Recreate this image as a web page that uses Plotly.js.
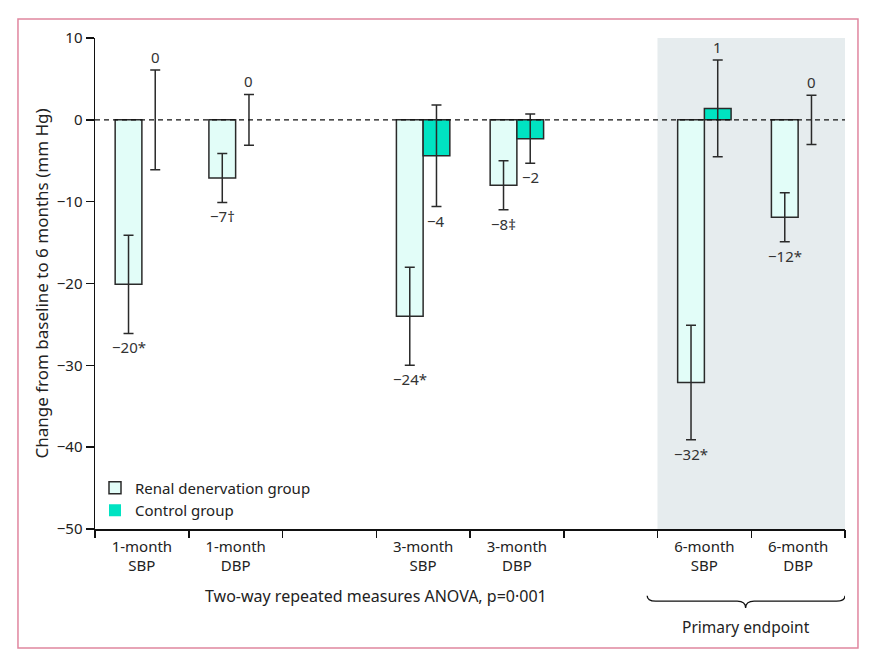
<!DOCTYPE html>
<html>
<head>
<meta charset="utf-8">
<script src="https://cdn.plot.ly/plotly-3.0.1.min.js"></script>
<style>html,body{margin:0;padding:0;background:#fff;}#chart{width:876px;height:662px;}</style>
</head>
<body>
<div id="chart"></div>
<script>
// ---- data ----
var categories = ["1-month<br>SBP", "1-month<br>DBP", "", "3-month<br>SBP", "3-month<br>DBP", "", "6-month<br>SBP", "6-month<br>DBP"];
var barPositions = [0, 1, 3, 4, 6, 7];
var renalValues = [-20.1, -7.1, -24.0, -8.0, -32.1, -11.9];
var renalErrors = [6.0, 3.0, 6.0, 3.0, 7.0, 3.0];
var renalLabels = ["\u221220*", "\u22127\u2020", "\u221224*", "\u22128\u2021", "\u221232*", "\u221212*"];
var controlValues = [0, 0, -4.4, -2.3, 1.4, 0];
var controlErrors = [6.1, 3.1, 6.2, 3.0, 5.9, 3.0];
var controlLabels = ["0", "0", "\u22124", "\u22122", "1", "0"];
var yTicks = [10, 0, -10, -20, -30, -40, -50];

var FONT = "Noto Sans, Open Sans, sans-serif";
var bargap = 0.43;
var half = (1 - bargap) / 4;

var renalTrace = {
  type: "bar", name: "Renal denervation group",
  x: barPositions, y: renalValues,
  marker: {color: "#e2fdf8", line: {color: "#2a2a2a", width: 1.5}},
  error_y: {type: "data", array: renalErrors, visible: true, color: "#2a2a2a", thickness: 1.5, width: 5},
  hoverinfo: "y"
};
var controlTrace = {
  type: "bar", name: "Control group",
  x: barPositions, y: controlValues,
  marker: {color: "#00e3c2", line: {color: "#2a2a2a", width: controlValues.map(function (v) { return v === 0 ? 0 : 1.5; })}},
  error_y: {type: "data", array: controlErrors, visible: true, color: "#2a2a2a", thickness: 1.5, width: 5},
  hoverinfo: "y"
};

var annotations = [];
for (var i = 0; i < barPositions.length; i++) {
  annotations.push({
    x: barPositions[i] - half, y: renalValues[i] - renalErrors[i], xref: "x", yref: "y",
    text: renalLabels[i], showarrow: false, yanchor: "middle", yshift: -14,
    font: {family: FONT, size: 15, color: "#333"}
  });
  var cv = controlValues[i];
  var above = cv >= 0;
  annotations.push({
    x: barPositions[i] + half, y: above ? cv + controlErrors[i] : cv - controlErrors[i], xref: "x", yref: "y",
    text: controlLabels[i], showarrow: false, yanchor: "middle", yshift: above ? 13 : -14,
    font: {family: FONT, size: 15, color: "#333"}
  });
}
annotations.push({
  x: 2.5, y: -0.137, xref: "x", yref: "paper", text: "Two-way repeated measures ANOVA, p=0\u00b7001",
  showarrow: false, yanchor: "middle", font: {family: FONT, size: 16, color: "#222"}
});
annotations.push({
  x: 6.44, y: -0.199, xref: "x", yref: "paper", text: "Primary endpoint",
  showarrow: false, yanchor: "middle", font: {family: FONT, size: 15.5, color: "#222"}
});

// brace under the primary endpoint
var L = 5.39, R = 7.5, C = 6.44, d = 0.09;
var yt = -0.136, ym = -0.147, yb = -0.161;
var brace = "M" + L + "," + yt + " Q" + L + "," + ym + " " + (L + d) + "," + ym +
  " L" + (C - d) + "," + ym + " Q" + C + "," + ym + " " + C + "," + yb +
  " Q" + C + "," + ym + " " + (C + d) + "," + ym +
  " L" + (R - d) + "," + ym + " Q" + R + "," + ym + " " + R + "," + yt;

var boundaries = [];
for (var b = -0.5; b <= 7.5; b += 1) boundaries.push(b);

var layout = {
  width: 876, height: 662,
  margin: {l: 95, r: 31, t: 38, b: 133},
  paper_bgcolor: "#fff", plot_bgcolor: "rgba(0,0,0,0)",
  font: {family: FONT, size: 15, color: "#222"},
  barmode: "group", bargap: bargap, bargroupgap: 0,
  showlegend: true,
  legend: {x: 0.0, y: 0.117, xanchor: "left", yanchor: "top", bgcolor: "rgba(0,0,0,0)",
    font: {family: FONT, size: 15, color: "#222"}, traceorder: "normal", tracegroupgap: 0},
  xaxis: {
    range: [-0.5, 7.5], tickvals: [0, 1, 3, 4, 6, 7],
    ticktext: [categories[0], categories[1], categories[3], categories[4], categories[6], categories[7]],
    ticks: "outside", ticklen: 3, tickcolor: "rgba(0,0,0,0)",
    showline: true, linecolor: "#111", linewidth: 1.5, showgrid: false, zeroline: false,
    tickfont: {family: FONT, size: 15, color: "#222"}, fixedrange: true
  },
  xaxis2: {
    overlaying: "x", anchor: "y", side: "bottom", range: [-0.5, 7.5], tickvals: boundaries,
    ticks: "outside", ticklen: 8, tickwidth: 1.5, tickcolor: "#111", showticklabels: false,
    showline: false, showgrid: false, zeroline: false
  },
  yaxis: {
    range: [-50, 10], tickvals: yTicks, ticks: "outside", ticklen: 8, tickwidth: 1.5, tickcolor: "#111",
    showline: true, linecolor: "#111", linewidth: 1.5, showgrid: false, zeroline: false,
    tickfont: {family: FONT, size: 15, color: "#222"},
    title: {text: "Change from baseline to 6 months (mm Hg)", font: {family: FONT, size: 17, color: "#222"}, standoff: 4}
  },
  shapes: [
    {type: "rect", xref: "x", yref: "y", x0: 5.5, x1: 7.5, y0: -50, y1: 10, fillcolor: "#e6ecee", line: {width: 0}, layer: "below"},
    {type: "line", xref: "x", yref: "y", x0: -0.5, x1: 7.5, y0: 0, y1: 0, line: {color: "#111", width: 1.3, dash: "5px,4px"}, layer: "above"},
    {type: "path", xref: "x", yref: "paper", path: brace, line: {color: "#111", width: 1.3}},
    {type: "rect", xref: "paper", yref: "paper", x0: -0.1027, x1: 1.0173, y0: -0.2424, y1: 1.0387, line: {color: "#e0869f", width: 1.5}, fillcolor: "rgba(0,0,0,0)"}
  ],
  annotations: annotations
};

Plotly.newPlot("chart", [renalTrace, controlTrace, {type: "scatter", x: [0], y: [0], xaxis: "x2", mode: "markers", marker: {opacity: 0}, showlegend: false, hoverinfo: "skip"}], layout, {displayModeBar: false, staticPlot: true});
</script>
</body>
</html>
